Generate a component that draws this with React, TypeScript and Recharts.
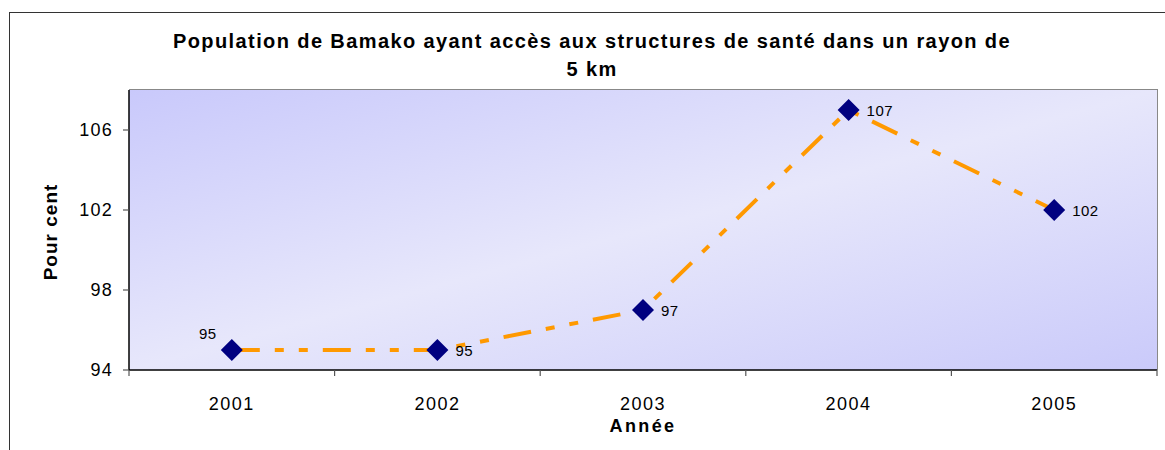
import { LineChart, Line, XAxis, YAxis, CartesianGrid, LabelList } from 'recharts';

const YEARS = ['2001', '2002', '2003', '2004', '2005'];
const VALUES = [95, 95, 97, 107, 102];
const Y_TICKS = [94, 98, 102, 106];
const Y_DOMAIN: [number, number] = [94, 108];

const TITLE_1 = 'Population de Bamako ayant accès aux structures de santé dans un rayon de';
const TITLE_2 = '5 km';
const X_TITLE = 'Année';
const Y_TITLE = 'Pour cent';

const FONT = '"Liberation Sans", Arial, sans-serif';
const ORANGE = '#FF9900';
const NAVY = '#000080';

const W = 1165;
const H = 450;
const PLOT_LEFT = 129;
const PLOT_RIGHT = 1157;
const PLOT_TOP = 90;
const PLOT_BOTTOM = 370;
const BAND = (PLOT_RIGHT - PLOT_LEFT) / YEARS.length;

const data = YEARS.map((year, i) => ({ year, value: VALUES[i] }));

function Diamond({ cx, cy }: any) {
  if (cx == null || cy == null) return null;
  const r = 11;
  return (
    <polygon
      points={`${cx},${cy - r} ${cx + r},${cy} ${cx},${cy + r} ${cx - r},${cy}`}
      fill={NAVY}
    />
  );
}

// category labels centred in each band, tick marks on the band edges
function YearTick({ x, payload, index }: any) {
  const isLast = index === YEARS.length - 1;
  return (
    <g>
      <line x1={x - BAND / 2} x2={x - BAND / 2} y1={PLOT_BOTTOM} y2={PLOT_BOTTOM + 6} stroke="#555" strokeWidth={1.2} />
      {isLast && (
        <line x1={x + BAND / 2} x2={x + BAND / 2} y1={PLOT_BOTTOM} y2={PLOT_BOTTOM + 6} stroke="#555" strokeWidth={1.2} />
      )}
      <text
        x={x}
        y={PLOT_BOTTOM + 40}
        textAnchor="middle"
        fontSize={18}
        letterSpacing={1.5}
        fontFamily={FONT}
        fill="#000"
      >
        {payload.value}
      </text>
    </g>
  );
}

function ValueTick({ x, y, payload }: any) {
  return (
    <text x={x} y={y + 6} textAnchor="end" fontSize={18} letterSpacing={1.2} fontFamily={FONT} fill="#000">
      {payload.value}
    </text>
  );
}

function XTitle({ viewBox }: any) {
  const { x, width } = viewBox;
  return (
    <text
      x={x + width / 2}
      y={PLOT_BOTTOM + 62}
      textAnchor="middle"
      fontSize={18}
      fontWeight="bold"
      letterSpacing={2.4}
      fontFamily={FONT}
      fill="#000"
    >
      {X_TITLE}
    </text>
  );
}

function YTitle() {
  const cx = 57;
  const cy = 232;
  return (
    <text
      x={cx}
      y={cy}
      transform={`rotate(-90 ${cx} ${cy})`}
      textAnchor="middle"
      fontSize={19}
      fontWeight="bold"
      letterSpacing={1}
      fontFamily={FONT}
      fill="#000"
    >
      {Y_TITLE}
    </text>
  );
}

function PointLabel({ x, y, value, index }: any) {
  if (index === 0) {
    return (
      <text x={x - 24} y={y - 11} textAnchor="middle" fontSize={15} letterSpacing={0.5} fontFamily={FONT} fill="#000">
        {value}
      </text>
    );
  }
  return (
    <text x={x + 18} y={y + 6} textAnchor="start" fontSize={15} letterSpacing={0.5} fontFamily={FONT} fill="#000">
      {value}
    </text>
  );
}

export default function App() {
  return (
    <div style={{ position: 'absolute', left: 0, top: 0, width: W, height: H, overflow: 'hidden', background: '#fff' }}>
      {/* outer frame, cut off at right and bottom like the source */}
      <div
        style={{
          position: 'absolute',
          left: 9,
          top: 12,
          width: W + 50,
          height: H + 50,
          borderLeft: '1.5px solid #333',
          borderTop: '1.5px solid #333',
        }}
      />
      <div
        style={{
          position: 'absolute',
          left: 0,
          top: 27,
          width: 1184,
          textAlign: 'center',
          fontFamily: FONT,
          fontWeight: 'bold',
          fontSize: 20,
          letterSpacing: 1.4,
          lineHeight: '28px',
          color: '#000',
        }}
      >
        <div>{TITLE_1}</div>
        <div>{TITLE_2}</div>
      </div>
      <div style={{ position: 'absolute', left: 0, top: 0 }}>
        <LineChart
          width={W}
          height={H}
          data={data}
          margin={{ top: PLOT_TOP, right: W - PLOT_RIGHT, bottom: 40, left: 69 }}
        >
          <defs>
            <linearGradient id="plotBg" x1="0" y1="0" x2="1" y2="1">
              <stop offset="0%" stopColor="#C9C9FB" />
              <stop offset="50%" stopColor="#E7E7FB" />
              <stop offset="100%" stopColor="#CACAFA" />
            </linearGradient>
          </defs>
          <CartesianGrid fill="url(#plotBg)" stroke="none" horizontal={false} vertical={false} />
          <XAxis
            dataKey="year"
            height={40}
            padding={{ left: BAND / 2, right: BAND / 2 }}
            axisLine={{ stroke: '#000', strokeWidth: 1.5 }}
            tickLine={false}
            tick={<YearTick />}
            interval={0}
            label={<XTitle />}
          />
          <YAxis
            width={60}
            domain={Y_DOMAIN}
            ticks={Y_TICKS}
            allowDataOverflow
            axisLine={{ stroke: '#000', strokeWidth: 1.5 }}
            tickLine={{ stroke: '#555', strokeWidth: 1.2 }}
            tickSize={6}
            tickMargin={10}
            tick={<ValueTick />}
            label={<YTitle />}
          />
          <Line
            type="linear"
            dataKey="value"
            stroke={ORANGE}
            strokeWidth={4}
            strokeDasharray="28 15 9 15 9 15"
            dot={<Diamond />}
            activeDot={false}
            isAnimationActive={false}
          >
            <LabelList dataKey="value" content={<PointLabel />} />
          </Line>
        </LineChart>
      </div>
      {/* grey plot-area border on top and right */}
      <div
        style={{
          position: 'absolute',
          left: PLOT_LEFT,
          top: PLOT_TOP - 1,
          width: PLOT_RIGHT - PLOT_LEFT,
          height: PLOT_BOTTOM - PLOT_TOP,
          borderTop: '1.5px solid #888',
          borderRight: '1.5px solid #888',
          pointerEvents: 'none',
        }}
      />
    </div>
  );
}
